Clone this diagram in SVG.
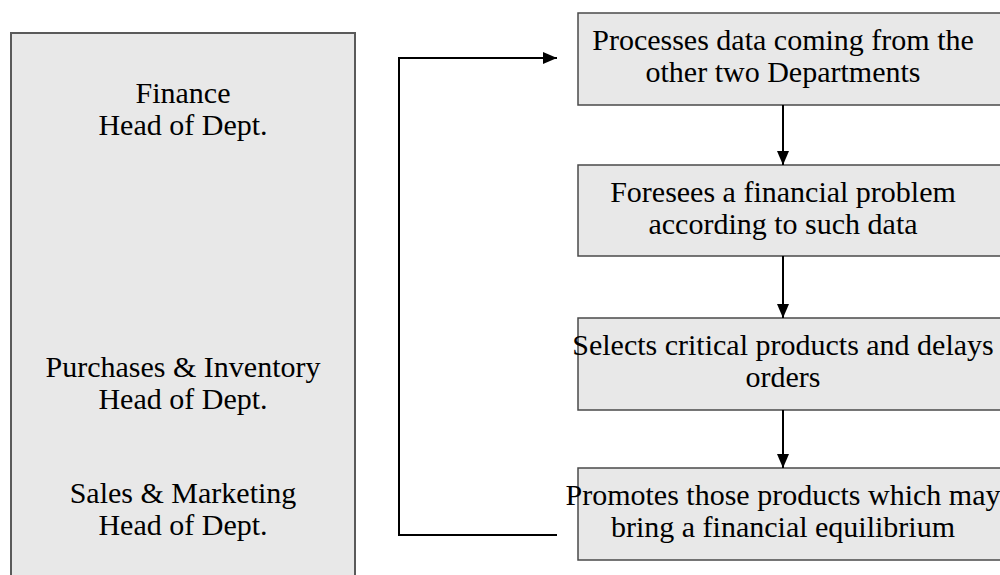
<svg xmlns="http://www.w3.org/2000/svg" width="1000" height="575" viewBox="0 0 1000 575">
<style>
.box{fill:#e8e8e8;stroke:#4a4a4a;stroke-width:1.5}
.lbox{fill:#e8e8e8;stroke:#5a5a5a;stroke-width:2}
.t{font-family:"Liberation Serif","Times New Roman",serif;font-size:30px;fill:#000;text-anchor:middle}
.c{fill:none;stroke:#000;stroke-width:2}
</style>
<defs>
<marker id="ah" viewBox="0 0 14 12" refX="14" refY="6" markerWidth="14" markerHeight="12" markerUnits="userSpaceOnUse" orient="auto">
<path d="M0,0 L14,6 L0,12 Z" fill="#000"/>
</marker>
</defs>
<g id="heads">
<rect class="lbox" x="11" y="33" width="344" height="560"/>
<text class="t" x="183" y="103">Finance</text>
<text class="t" x="183" y="135">Head of Dept.</text>
<text class="t" x="183" y="377">Purchases &amp; Inventory</text>
<text class="t" x="183" y="409">Head of Dept.</text>
<text class="t" x="183" y="503">Sales &amp; Marketing</text>
<text class="t" x="183" y="535">Head of Dept.</text>
</g>
<g id="step1">
<rect class="box" x="578" y="13" width="440" height="92"/>
<text class="t" x="783" y="50">Processes data coming from the</text>
<text class="t" x="783" y="82">other two Departments</text>
</g>
<g id="step2">
<rect class="box" x="578" y="165" width="440" height="91"/>
<text class="t" x="783" y="202">Foresees a financial problem</text>
<text class="t" x="783" y="234">according to such data</text>
</g>
<g id="step3">
<rect class="box" x="578" y="318" width="440" height="92"/>
<text class="t" x="783" y="355">Selects critical products and delays</text>
<text class="t" x="783" y="387">orders</text>
</g>
<g id="step4">
<rect class="box" x="578" y="468" width="440" height="92"/>
<text class="t" x="783" y="505">Promotes those products which may</text>
<text class="t" x="783" y="537">bring a financial equilibrium</text>
</g>
<g id="connectors">
<line class="c" x1="783" y1="105" x2="783" y2="165" marker-end="url(#ah)"/>
<line class="c" x1="783" y1="256" x2="783" y2="318" marker-end="url(#ah)"/>
<line class="c" x1="783" y1="410" x2="783" y2="468" marker-end="url(#ah)"/>
<polyline class="c" points="557,535 399,535 399,58 557,58" marker-end="url(#ah)"/>
</g>
</svg>
